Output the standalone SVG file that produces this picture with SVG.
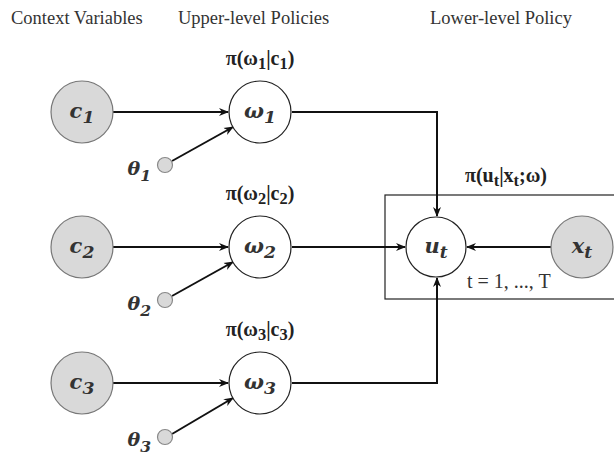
<svg xmlns="http://www.w3.org/2000/svg" width="614" height="459" viewBox="0 0 614 459">
<style>
.hdr{font-family:"Liberation Serif","Times New Roman",serif;font-size:18.5px;fill:#333}
.pi{font-family:"Liberation Serif","Times New Roman",serif;font-size:20px;font-weight:bold;fill:#222;text-anchor:middle}
.var{font-family:"DejaVu Serif",serif;font-size:21px;font-weight:bold;font-style:italic;fill:#333;text-anchor:middle}
.th{font-family:"DejaVu Serif",serif;font-size:19px;font-weight:bold;font-style:italic;fill:#333;text-anchor:end}
.sub{font-size:82%}
.obs{fill:#d9d9d9;stroke:#777;stroke-width:1.2}
.lat{fill:#fff;stroke:#222;stroke-width:1.2}
.hyp{fill:#d9d9d9;stroke:#888;stroke-width:1.2}
.edge{fill:none;stroke:#111;stroke-width:2}
.tt{font-family:"Liberation Serif","Times New Roman",serif;font-size:20px;fill:#333}
</style>
<defs>
<marker id="arr" viewBox="0 0 10 10" refX="9" refY="5" markerWidth="5" markerHeight="5" orient="auto" markerUnits="strokeWidth">
<path d="M0,1 L10,5 L0,9 L3,5 z" fill="#111"/>
</marker>
</defs>
<g id="headers">
<text class="hdr" x="11" y="24">Context Variables</text>
<text class="hdr" x="178" y="24">Upper-level Policies</text>
<text class="hdr" x="430" y="24">Lower-level Policy</text>
</g>
<g id="plate">
<rect x="385" y="195" width="240" height="104" fill="none" stroke="#222" stroke-width="1.2"/>
<text class="pi" x="506" y="182">π(u<tspan class="sub" dy="4">t</tspan><tspan dy="-4">|x</tspan><tspan class="sub" dy="4">t</tspan><tspan dy="-4">;ω)</tspan></text>
<text class="tt" x="467" y="288">t = 1, ..., T</text>
</g>
<g id="connectors">
<line class="edge" x1="113" y1="112" x2="228" y2="112" marker-end="url(#arr)"/>
<line class="edge" x1="113" y1="247" x2="228" y2="247" marker-end="url(#arr)"/>
<line class="edge" x1="113" y1="383" x2="228" y2="383" marker-end="url(#arr)"/>
<line class="edge" x1="172" y1="161" x2="233" y2="127" marker-end="url(#arr)"/>
<line class="edge" x1="172" y1="296" x2="233" y2="262" marker-end="url(#arr)"/>
<line class="edge" x1="172" y1="434" x2="233" y2="398" marker-end="url(#arr)"/>
<polyline class="edge" points="292,112 437,112 437,216" marker-end="url(#arr)"/>
<line class="edge" x1="292" y1="247" x2="405" y2="247" marker-end="url(#arr)"/>
<polyline class="edge" points="292,383 437,383 437,278" marker-end="url(#arr)"/>
<line class="edge" x1="551" y1="247" x2="467" y2="247" marker-end="url(#arr)"/>
</g>
<g id="c1"><circle class="obs" cx="82" cy="112" r="31"/><text class="var" x="82" y="118">c<tspan class="sub" dy="5">1</tspan></text></g>
<g id="c2"><circle class="obs" cx="82" cy="247" r="31"/><text class="var" x="82" y="253">c<tspan class="sub" dy="5">2</tspan></text></g>
<g id="c3"><circle class="obs" cx="82" cy="383" r="31"/><text class="var" x="82" y="389">c<tspan class="sub" dy="5">3</tspan></text></g>
<g id="w1"><circle class="lat" cx="260" cy="112" r="31"/><text class="var" x="260" y="118">ω<tspan class="sub" dy="5">1</tspan></text><text class="pi" x="260" y="65">π(ω<tspan class="sub" dy="4">1</tspan><tspan dy="-4">|c</tspan><tspan class="sub" dy="4">1</tspan><tspan dy="-4">)</tspan></text></g>
<g id="w2"><circle class="lat" cx="260" cy="247" r="31"/><text class="var" x="260" y="253">ω<tspan class="sub" dy="5">2</tspan></text><text class="pi" x="260" y="200">π(ω<tspan class="sub" dy="4">2</tspan><tspan dy="-4">|c</tspan><tspan class="sub" dy="4">2</tspan><tspan dy="-4">)</tspan></text></g>
<g id="w3"><circle class="lat" cx="260" cy="383" r="31"/><text class="var" x="260" y="389">ω<tspan class="sub" dy="5">3</tspan></text><text class="pi" x="260" y="336">π(ω<tspan class="sub" dy="4">3</tspan><tspan dy="-4">|c</tspan><tspan class="sub" dy="4">3</tspan><tspan dy="-4">)</tspan></text></g>
<g id="theta1"><circle class="hyp" cx="165" cy="165" r="7.5"/><text class="th" x="151" y="175">θ<tspan class="sub" dy="6">1</tspan></text></g>
<g id="theta2"><circle class="hyp" cx="165" cy="300" r="7.5"/><text class="th" x="151" y="310">θ<tspan class="sub" dy="6">2</tspan></text></g>
<g id="theta3"><circle class="hyp" cx="165" cy="437" r="7.5"/><text class="th" x="151" y="446">θ<tspan class="sub" dy="6">3</tspan></text></g>
<g id="ut"><circle class="lat" cx="436" cy="247" r="30"/><text class="var" x="436" y="253">u<tspan class="sub" dy="5">t</tspan></text></g>
<g id="xt"><circle class="obs" cx="582" cy="247" r="31"/><text class="var" x="582" y="253">x<tspan class="sub" dy="5">t</tspan></text></g>
</svg>
